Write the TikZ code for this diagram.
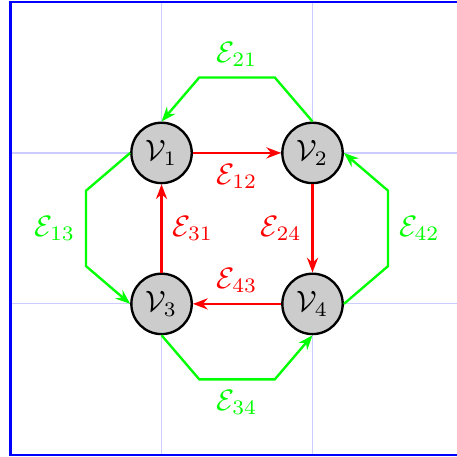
\documentclass[tikz,border=0pt]{standalone}
\usepackage{amsmath}
\usepackage{amssymb}
\usetikzlibrary{arrows.meta, positioning}

\begin{document}
\begin{tikzpicture}[
  x=1.8cm, y=1.8cm,
  vertex/.style={circle, draw=black, thick, fill=gray!40,
                 minimum size=0.72cm, inner sep=0pt},
  redge/.style={-{Stealth[length=5pt]}, thick, red},
  gedge/.style={-{Stealth[length=5pt]}, thick, green}
]
  \useasboundingbox (-0.07,-0.01) rectangle (2.957,3.013);
  \draw[blue!20, step=1.8cm] (0,0) grid (3,3);
  \draw[blue, thick] (0,0) rectangle (3,3);

  \node[vertex] (v1) at (1,2) {$\mathcal{V}_1$};
  \node[vertex] (v2) at (2,2) {$\mathcal{V}_2$};
  \node[vertex] (v3) at (1,1) {$\mathcal{V}_3$};
  \node[vertex] (v4) at (2,1) {$\mathcal{V}_4$};

  % inner (red) edges
  \draw[redge] (v1) -- (v2) node[midway, below] {$\mathcal{E}_{12}$};
  \draw[redge] (v2) -- (v4) node[midway, left]  {$\mathcal{E}_{24}$};
  \draw[redge] (v4) -- (v3) node[midway, above] {$\mathcal{E}_{43}$};
  \draw[redge] (v3) -- (v1) node[midway, right] {$\mathcal{E}_{31}$};

  % outer (green) edges
  \draw[gedge] (v2.north) -- (1.75,2.5) -- node[above] {$\mathcal{E}_{21}$} (1.25,2.5) -- (v1.north);
  \draw[gedge] (v1.west) -- (0.5,1.75) -- node[left]  {$\mathcal{E}_{13}$} (0.5,1.25) -- (v3.west);
  \draw[gedge] (v3.south) -- (1.25,0.5) -- node[below] {$\mathcal{E}_{34}$} (1.75,0.5) -- (v4.south);
  \draw[gedge] (v4.east) -- (2.5,1.25) -- node[right] {$\mathcal{E}_{42}$} (2.5,1.75) -- (v2.east);
\end{tikzpicture}
\end{document}
